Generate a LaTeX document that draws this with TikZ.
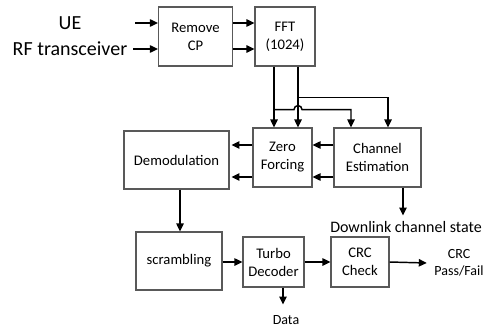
\documentclass[tikz,border=0pt]{standalone}
\usepackage{fontspec}
\setmainfont{Carlito}
\usetikzlibrary{positioning,arrows.meta,calc}

\begin{document}
\begin{tikzpicture}[
    x=0.75pt, y=-0.75pt,
    blk/.style={draw=black!65, line width=0.8pt, inner sep=0pt, align=center, font=\fontsize{11}{13.5}\selectfont},
    sz/.style 2 args={minimum width=#1*0.75pt, minimum height=#2*0.75pt},
    lbl/.style={inner sep=1pt, align=center},
    arr/.style={-{Triangle[length=6pt, width=5.5pt]}, line width=1.1pt},
    wire/.style={line width=1.1pt}
]
\useasboundingbox (0,0) rectangle (491,328);

% blocks
\node[blk, sz={74}{59}] (rcp) at (195.5,36.5) {Remove\\CP};
\node[blk, sz={60}{59}] (fft) at (285,36.5) {FFT\\(1024)};
\node[blk, sz={59}{59}] (zf) at (282.5,157.5) {Zero\\Forcing};
\node[blk, sz={87}{59}] (ce) at (377.5,157.5) {Channel\\Estimation};
\node[blk, sz={105}{58}] (dem) at (176.5,160) {Demodulation};
\node[blk, sz={86}{58}] (scr) at (179,261) {scrambling};
\node[blk, sz={61}{50}] (tdec) at (273.5,262) {Turbo\\Decoder};
\node[blk, sz={58}{50}] (crc) at (360,262) {CRC\\Check};

% labels
\node[lbl, font=\fontsize{15}{18}\selectfont] (ue) at (70,23) {UE};
\node[lbl, font=\fontsize{15}{18}\selectfont] (rf) at (70,49) {RF transceiver};
\node[lbl, font=\fontsize{12}{14}\selectfont] (dcs) at (406,227) {Downlink channel state};
\node[lbl, font=\fontsize{10.5}{13}\selectfont] (pf) at (459,263) {CRC\\Pass/Fail};
\node[lbl, font=\fontsize{10.5}{13}\selectfont] (data) at (286,320) {Data};
\coordinate (in1) at (135,23);
\coordinate (in2) at (133,49);

% front end
\draw[arr] (in1) -- (in1 -| rcp.west);
\draw[arr] (in2) -- (in2 -| rcp.west);
\draw[arr] (in1 -| rcp.east) -- (in1 -| fft.west);
\draw[arr] (in2 -| rcp.east) -- (in2 -| fft.west);

% FFT outputs
\coordinate (fa) at ($(fft.south)+(-11,0)$);
\coordinate (fb) at ($(fft.south)+(13,0)$);
\draw[arr] (fa) -- (fa |- zf.north);
\draw[arr] (fb) -- (fb |- zf.north);
\draw[arr] ($(fb)+(0,31)$) -| ($(ce.north)+(10.5,0)$);
\draw[arr] ($(fa)+(0,43)$) -- ($(fb)+(-4,43)$)
    arc[start angle=180, end angle=360, radius=4] -| ($(ce.north)+(-26.5,0)$);

% equalisation
\draw[arr] ($(ce.west)+(0,-12.5)$) -- ($(zf.east)+(0,-12.5)$);
\draw[arr] ($(ce.west)+(0,19.5)$) -- ($(zf.east)+(0,19.5)$);
\draw[arr] ($(zf.west)+(0,-12.5)$) -- ($(zf.west)+(-21,-12.5)$);
\draw[arr] ($(zf.west)+(0,19.5)$) -- ($(zf.west)+(-21,19.5)$);
\draw[arr] ($(ce.south)+(25.5,0)$) -- ++(0,28);

% decoding chain
\draw[arr] ($(dem.south)+(3.5,0)$) -- ($(scr.north)+(1,0)$);
\draw[arr] (scr.east |- tdec.west) -- (tdec.west);
\draw[arr] (tdec) -- (crc);
\draw[arr] (crc.east) -- ($(pf.west)+(-6,0)$);
\draw[arr] ($(tdec.south)+(9.5,0)$) -- ++(0,17);

\end{tikzpicture}
\end{document}
